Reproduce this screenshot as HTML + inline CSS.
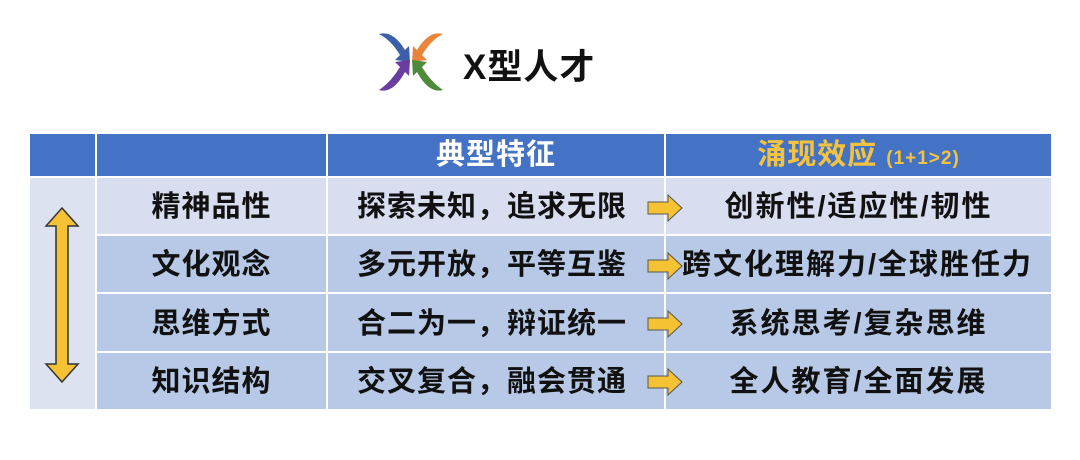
<!DOCTYPE html>
<html><head><meta charset="utf-8"><style>
body{margin:0;width:1080px;height:460px;background:#fff;position:relative;overflow:hidden;font-family:"Liberation Sans","Noto Sans CJK SC",sans-serif;font-weight:bold;}
.a{position:absolute;box-sizing:border-box;}
.t{position:absolute;font-size:29px;letter-spacing:1px;color:#111;white-space:nowrap;text-align:center;line-height:32px;}
.r{letter-spacing:2px;}
</style></head><body>
<!-- logo -->
<svg class="a" style="left:375px;top:28px" width="72" height="66" viewBox="0 0 72 66">
<path d="M4 6 Q18 2 30 22 L34 18 L35 34 L20 32 L25 27 Q16 12 4 6Z" fill="#3b5fa8"/>
<path d="M68 6 Q54 2 42 22 L38 18 L37 34 L52 32 L47 27 Q56 12 68 6Z" fill="#e8843c"/>
<path d="M4 62 Q18 66 30 44 L34 48 L35 32 L20 34 L25 39 Q16 54 4 62Z" fill="#6a3ea0"/>
<path d="M68 62 Q54 66 42 44 L38 48 L37 32 L52 34 L47 39 Q56 54 68 62Z" fill="#4f8a3c"/>
</svg>
<div class="t" style="left:463px;top:49px;font-size:35px;line-height:38px;text-align:left;letter-spacing:1px">X型人才</div>
<!-- header -->
<div class="a" style="left:30px;top:134px;width:1021px;height:42px;background:#4472c4"></div>
<!-- body backgrounds -->
<div class="a" style="left:30px;top:178px;width:66px;height:231px;background:#dde2f0"></div>
<div class="a" style="left:97px;top:178px;width:954px;height:56px;background:#d8deef"></div>
<div class="a" style="left:97px;top:236px;width:954px;height:56px;background:#b7c9e6"></div>
<div class="a" style="left:97px;top:294px;width:954px;height:57px;background:#b7c9e6"></div>
<div class="a" style="left:97px;top:353px;width:954px;height:56px;background:#b7c9e6"></div>
<!-- vertical separators -->
<div class="a" style="left:95px;top:134px;width:2px;height:275px;background:#fff"></div>
<div class="a" style="left:326px;top:134px;width:2px;height:275px;background:#fff"></div>
<div class="a" style="left:664px;top:134px;width:2px;height:275px;background:#fff"></div>
<!-- header text -->
<div class="t" style="left:328px;top:139px;width:336px;color:#fff">典型特征</div>
<div class="t" style="left:666px;top:139px;width:385px;color:#f3c240">涌现效应 <span style="font-size:19px;letter-spacing:1px">(1+1&gt;2)</span></div>
<!-- double arrow -->
<svg class="a" style="left:42px;top:206px" width="40" height="178" viewBox="0 0 40 178">
<path d="M20 2 L36 20 L26 20 L26 158 L36 158 L20 176 L4 158 L14 158 L14 20 L4 20Z" fill="#f5c234" stroke="#333" stroke-width="1.5"/>
</svg>
<!-- rows -->
<div class="t" style="left:97px;top:191px;width:229px">精神品性</div>
<div class="t" style="left:97px;top:249px;width:229px">文化观念</div>
<div class="t" style="left:97px;top:308px;width:229px">思维方式</div>
<div class="t" style="left:97px;top:366px;width:229px">知识结构</div>
<div class="t" style="left:357px;top:191px">探索未知，追求无限</div>
<div class="t" style="left:357px;top:249px">多元开放，平等互鉴</div>
<div class="t" style="left:357px;top:308px">合二为一，辩证统一</div>
<div class="t" style="left:357px;top:366px">交叉复合，融会贯通</div>
<div class="t r" style="left:666px;top:191px;width:385px">创新性/适应性/韧性</div>
<div class="t" style="left:682px;top:249px;text-align:left;letter-spacing:2px">跨文化理解力/全球胜任力</div>
<div class="t r" style="left:666px;top:308px;width:385px">系统思考/复杂思维</div>
<div class="t r" style="left:666px;top:366px;width:385px">全人教育/全面发展</div>
<!-- right arrows -->
<svg class="a" style="left:646px;top:193px" width="38" height="30"><path d="M2 9 L22 9 L22 2 L36 15 L22 28 L22 21 L2 21Z" fill="#f5c234" stroke="#555" stroke-width="1"/></svg>
<svg class="a" style="left:646px;top:251px" width="38" height="30"><path d="M2 9 L22 9 L22 2 L36 15 L22 28 L22 21 L2 21Z" fill="#f5c234" stroke="#555" stroke-width="1"/></svg>
<svg class="a" style="left:646px;top:309px" width="38" height="30"><path d="M2 9 L22 9 L22 2 L36 15 L22 28 L22 21 L2 21Z" fill="#f5c234" stroke="#555" stroke-width="1"/></svg>
<svg class="a" style="left:646px;top:367px" width="38" height="30"><path d="M2 9 L22 9 L22 2 L36 15 L22 28 L22 21 L2 21Z" fill="#f5c234" stroke="#555" stroke-width="1"/></svg>
</body></html>
